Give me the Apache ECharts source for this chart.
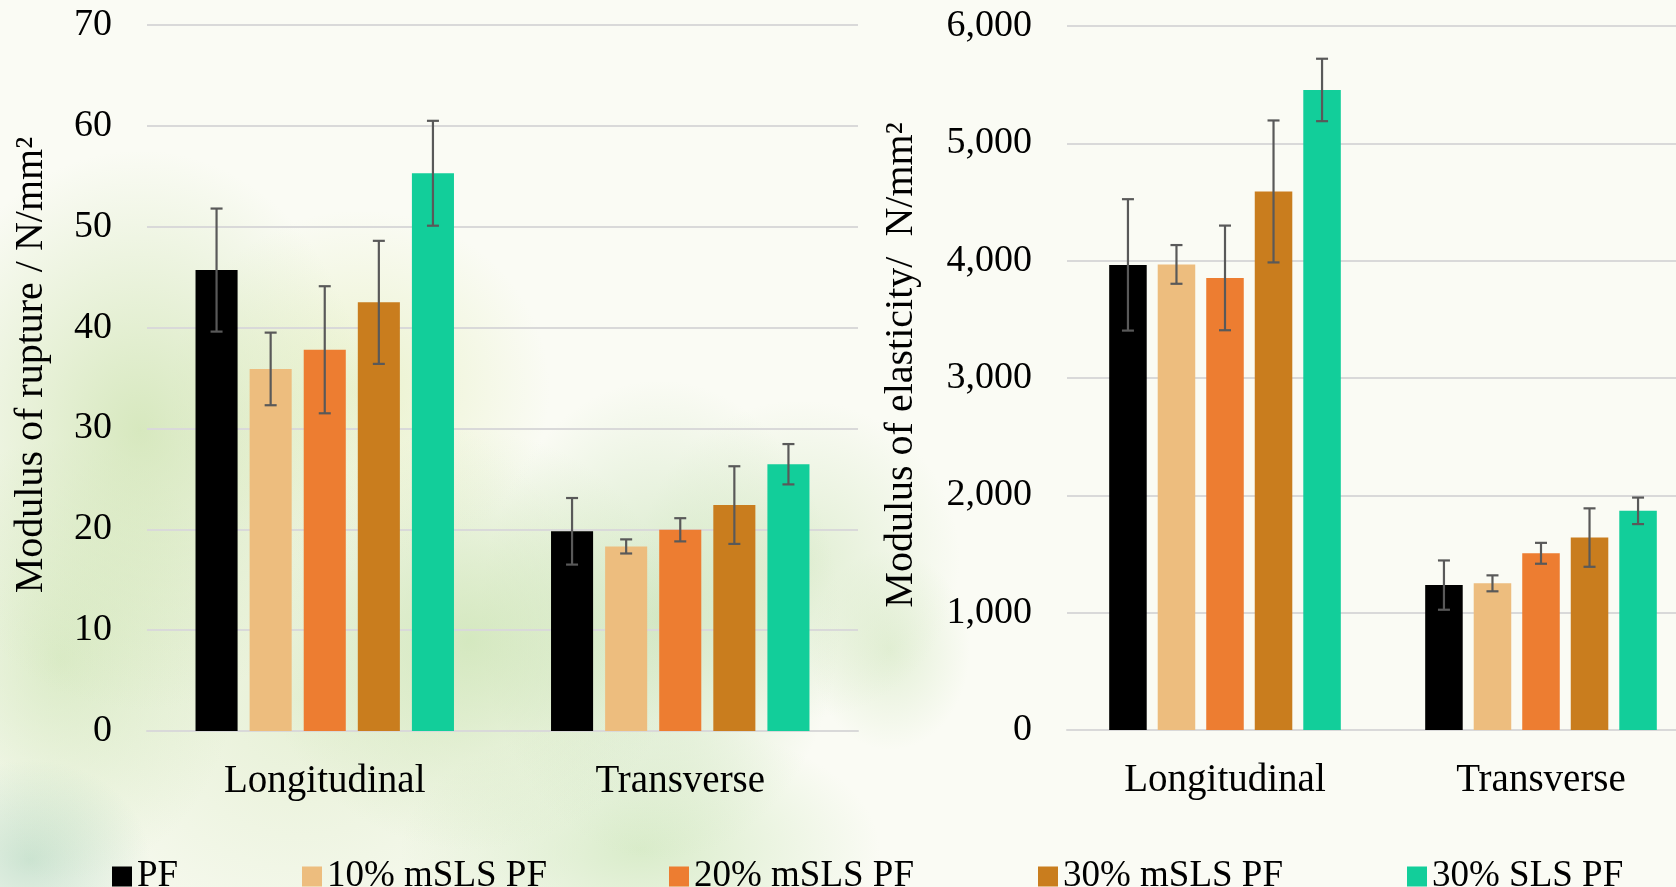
<!DOCTYPE html>
<html>
<head>
<meta charset="utf-8">
<script src="https://cdn.jsdelivr.net/npm/echarts@6/dist/echarts.min.js"></script>
<style>
html,body{margin:0;padding:0;}
body{
  width:1676px;height:887px;overflow:hidden;
  background-color:#FAFBF4;
  background-image:
    radial-gradient(ellipse 120px 100px at 30px 860px, rgba(150,200,170,0.45), rgba(150,200,170,0) 100%),
    radial-gradient(ellipse 230px 280px at 140px 430px, rgba(200,224,168,0.70), rgba(200,224,168,0) 100%),
    radial-gradient(ellipse 180px 220px at 60px 660px, rgba(205,228,180,0.65), rgba(205,228,180,0) 100%),
    radial-gradient(ellipse 190px 180px at 360px 390px, rgba(226,237,185,0.65), rgba(226,237,185,0) 100%),
    radial-gradient(ellipse 210px 210px at 470px 640px, rgba(200,226,175,0.70), rgba(200,226,175,0) 100%),
    radial-gradient(ellipse 180px 240px at 660px 620px, rgba(196,224,178,0.70), rgba(196,224,178,0) 100%),
    radial-gradient(ellipse 240px 130px at 640px 850px, rgba(200,228,180,0.65), rgba(200,228,180,0) 100%),
    radial-gradient(ellipse 160px 160px at 800px 560px, rgba(205,228,185,0.55), rgba(205,228,185,0) 100%),
    radial-gradient(ellipse 80px 100px at 890px 650px, rgba(205,228,185,0.50), rgba(205,228,185,0) 100%),
    radial-gradient(ellipse 320px 320px at 300px 700px, rgba(215,232,190,0.55), rgba(215,232,190,0) 100%);
}
#chart{width:1700px;height:887px;}
</style>
</head>
<body>
<div id="chart"></div>
<script>
// ---- data ----
const categories = ['Longitudinal', 'Transverse'];
const seriesNames = ['PF', '10% mSLS PF', '20% mSLS PF', '30% mSLS PF', '30% SLS PF'];

// Modulus of rupture (N/mm²)
const mor_PF = [45.7, 19.8];
const mor_PF_err = [6.1, 3.3];
const mor_10 = [35.9, 18.3];
const mor_10_err = [3.6, 0.7];
const mor_20 = [37.8, 19.95];
const mor_20_err = [6.3, 1.15];
const mor_30 = [42.5, 22.4];
const mor_30_err = [6.1, 3.85];
const mor_SLS = [55.3, 26.45];
const mor_SLS_err = [5.2, 2.0];

// Modulus of elasticity (N/mm²)
const moe_PF = [3964, 1235];
const moe_PF_err = [560, 210];
const moe_10 = [3968, 1250];
const moe_10_err = [165, 68];
const moe_20 = [3853, 1506];
const moe_20_err = [446, 89];
const moe_30 = [4590, 1640];
const moe_30_err = [605, 249];
const moe_SLS = [5455, 1868];
const moe_SLS_err = [266, 113];

const morTicks = [0, 10, 20, 30, 40, 50, 60, 70];
const moeTicks = [0, 1000, 2000, 3000, 4000, 5000, 6000];

// ---- styling ----
const colors = ['#000000', '#EDBD7E', '#ED7D31', '#C97D1E', '#12CE9A'];
const FONT = 'Liberation Serif';
const FS = 38;

const morVals = [mor_PF, mor_10, mor_20, mor_30, mor_SLS];
const morErrs = [mor_PF_err, mor_10_err, mor_20_err, mor_30_err, mor_SLS_err];
const moeVals = [moe_PF, moe_10, moe_20, moe_30, moe_SLS];
const moeErrs = [moe_PF_err, moe_10_err, moe_20_err, moe_30_err, moe_SLS_err];

const layouts = [
  {catGap: 0.273, barGap: 0.286},
  {catGap: 0.267, barGap: 0.293}
];

function centerOffset(band, i, n, catGap, barGap) {
  const total = band * (1 - catGap);
  const w = total / (n + (n - 1) * barGap);
  const realTotal = n * w + (n - 1) * w * barGap;
  return -realTotal / 2 + i * w * (1 + barGap) + w / 2;
}

function makeErrorSeries(vals, errs, axisIdx) {
  const data = [];
  vals.forEach((arr, s) => {
    arr.forEach((v, c) => {
      data.push([c, v, errs[s][c], s]);
    });
  });
  const lay = layouts[axisIdx];
  return {
    type: 'custom',
    xAxisIndex: axisIdx,
    yAxisIndex: axisIdx,
    z: 10,
    silent: true,
    encode: {x: 0, y: 1},
    data: data,
    renderItem: function (params, api) {
      const c = api.value(0), v = api.value(1), e = api.value(2), s = api.value(3);
      const band = api.size([1, 0])[0];
      const off = centerOffset(band, s, 5, lay.catGap, lay.barGap);
      const hi = api.coord([c, v + e]);
      const lo = api.coord([c, v - e]);
      const x = hi[0] + off;
      const cap = 6;
      const style = {stroke: '#595959', lineWidth: 2.2, fill: null};
      return {
        type: 'group',
        children: [
          {type: 'line', shape: {x1: x, y1: hi[1], x2: x, y2: lo[1]}, style: style},
          {type: 'line', shape: {x1: x - cap, y1: hi[1], x2: x + cap, y2: hi[1]}, style: style},
          {type: 'line', shape: {x1: x - cap, y1: lo[1], x2: x + cap, y2: lo[1]}, style: style}
        ]
      };
    }
  };
}

const series = [];
morVals.forEach((arr, i) => {
  series.push({
    name: seriesNames[i], type: 'bar', xAxisIndex: 0, yAxisIndex: 0,
    data: arr, barGap: (layouts[0].barGap * 100) + '%', barCategoryGap: (layouts[0].catGap * 100) + '%',
    itemStyle: {color: colors[i]}, silent: true
  });
});
moeVals.forEach((arr, i) => {
  series.push({
    name: seriesNames[i], type: 'bar', xAxisIndex: 1, yAxisIndex: 1,
    data: arr, barGap: (layouts[1].barGap * 100) + '%', barCategoryGap: (layouts[1].catGap * 100) + '%',
    itemStyle: {color: colors[i]}, silent: true
  });
});
series.push(makeErrorSeries(morVals, morErrs, 0));
series.push(makeErrorSeries(moeVals, moeErrs, 1));

const txt = {fontFamily: FONT, fontSize: FS, color: '#000'};

function xAxis(gi) {
  return {
    type: 'category', gridIndex: gi, data: categories,
    axisTick: {show: false},
    axisLine: {lineStyle: {color: '#D9D9D9', width: 2}},
    axisLabel: Object.assign({}, txt, {margin: 31, fontSize: 39})
  };
}
function yAxis(gi, ticks, name, gap, fmt) {
  return {
    type: 'value', gridIndex: gi,
    min: ticks[0], max: ticks[ticks.length - 1], interval: ticks[1] - ticks[0],
    name: name, nameLocation: 'middle', nameGap: gap, nameRotate: 90,
    nameTextStyle: Object.assign({}, txt, {padding: [0, 0, 0, 26], fontSize: 40}),
    axisLine: {show: false}, axisTick: {show: false},
    axisLabel: Object.assign({margin: 35, formatter: fmt}, txt),
    splitLine: {lineStyle: {color: '#D9D9D9', width: 2}}
  };
}

const legendLefts = [107, 297, 664, 1033, 1402];
const legends = seriesNames.map((n, i) => ({
  data: [n], left: legendLefts[i], top: 853, orient: 'horizontal',
  itemWidth: 20, itemHeight: 20, icon: 'rect',
  textStyle: Object.assign({}, txt, {padding: [0, 0, 0, 0], fontSize: 37}),
  selectedMode: false
}));

const option = {
  animation: false,
  color: colors,
  grid: [
    {left: 147, top: 25, width: 711, height: 706},
    {left: 1067, top: 26, width: 632, height: 704}
  ],
  xAxis: [xAxis(0), xAxis(1)],
  yAxis: [
    yAxis(0, morTicks, 'Modulus of rupture / N/mm²', 96, v => String(v)),
    yAxis(1, moeTicks, 'Modulus of elasticity/  N/mm²', 146, v => v.toLocaleString('en-US'))
  ],
  legend: legends,
  series: series
};

const chart = echarts.init(document.getElementById('chart'), null, {renderer: 'canvas'});
chart.setOption(option);
</script>
</body>
</html>
